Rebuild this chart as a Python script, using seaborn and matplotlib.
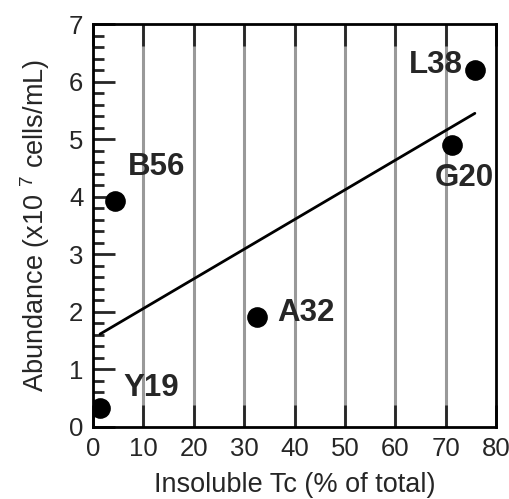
import numpy as np
import pandas as pd
import matplotlib
matplotlib.use('Agg')
import matplotlib.pyplot as plt
from matplotlib.ticker import MultipleLocator
import seaborn as sns

# data
samples = ['Y19', 'B56', 'A32', 'G20', 'L38']
insoluble_tc = [1.4, 4.4, 32.5, 71.2, 75.8]
abundance = [0.33, 3.92, 1.91, 4.9, 6.2]

df = pd.DataFrame({'sample': samples, 'tc': insoluble_tc, 'abund': abundance})

sns.set_style('white')
plt.rcParams['font.family'] = ['Liberation Sans', 'DejaVu Sans']
plt.rcParams['mathtext.fontset'] = 'custom'
plt.rcParams['mathtext.rm'] = 'Liberation Sans'

fig = plt.figure(figsize=(5.09, 4.99), dpi=100)
ax = fig.add_axes([0.1827, 0.1443, 0.7918, 0.8076])

# vertical grid lines
for gx in range(10, 80, 10):
    ax.axvline(gx, color='#999999', lw=2.2, zorder=0)

sns.regplot(data=df, x='tc', y='abund', ci=None, scatter=False, ax=ax,
            line_kws={'color': 'black', 'lw': 2})
sns.scatterplot(data=df, x='tc', y='abund', ax=ax, s=190, color='black',
                edgecolor='black', zorder=3)

# label offsets (text only, not data)
offsets = {'Y19': (4.6, 0.35, 'left'), 'B56': (2.6, 0.6, 'left'),
           'A32': (4.0, 0.07, 'left'), 'G20': (-3.3, -0.58, 'left'),
           'L38': (-2.4, 0.08, 'right')}
for s, x, y in zip(samples, insoluble_tc, abundance):
    dx, dy, ha = offsets[s]
    ax.text(x + dx, y + dy, s, fontsize=22.5, fontweight='bold', ha=ha, va='center')

ax.set_xlim(0, 80)
ax.set_ylim(0, 7)
ax.xaxis.set_major_locator(MultipleLocator(10))
ax.yaxis.set_major_locator(MultipleLocator(1))
ax.yaxis.set_minor_locator(MultipleLocator(0.2))
ax.tick_params(axis='x', which='major', direction='in', length=16, width=2,
               top=True, bottom=True, labelsize=18.5, pad=7)
ax.tick_params(axis='y', which='major', direction='in', length=16, width=2,
               left=True, right=False, labelsize=18.5, pad=7)
ax.tick_params(axis='y', which='minor', direction='in', length=8, width=2,
               left=True, right=False)
for sp in ax.spines.values():
    sp.set_linewidth(2)
    sp.set_color('black')

ax.set_xlabel('Insoluble Tc (% of total)', fontsize=19.5, labelpad=8)
ax.set_ylabel('Abundance (x10 $^{7}$ cells/mL)', fontsize=19.5, labelpad=12)

fig.savefig('out.png', dpi=100)
